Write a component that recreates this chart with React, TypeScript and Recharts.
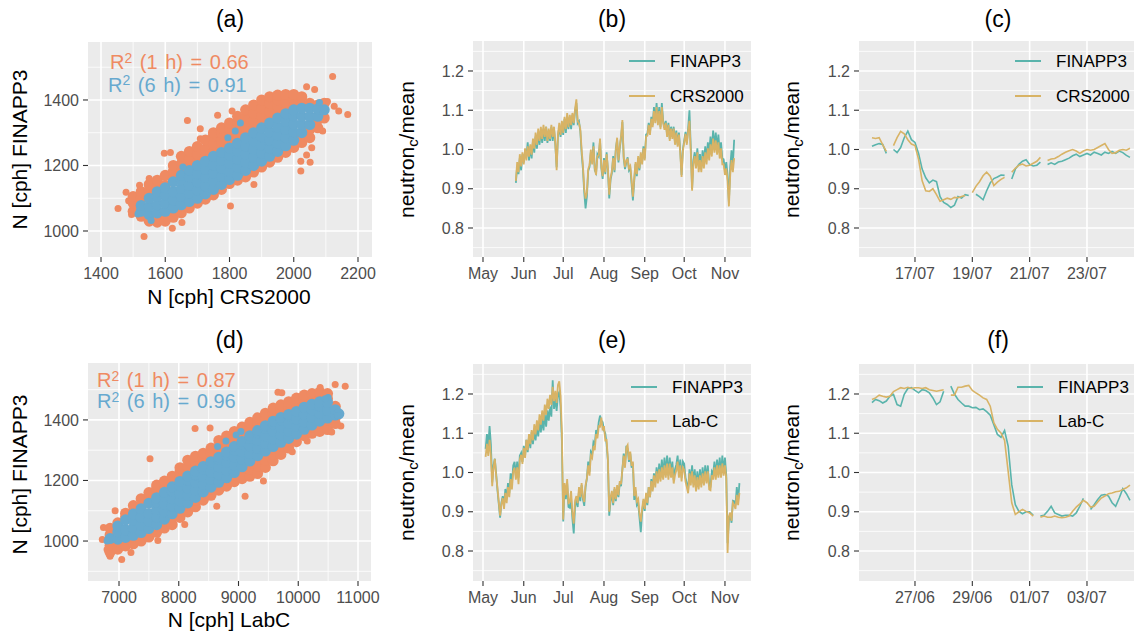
import React from "react";
import {
  ScatterChart,
  Scatter,
  LineChart,
  Line,
  XAxis,
  YAxis,
  CartesianGrid,
} from "recharts";

const FONT = '"Liberation Sans", Arial, Helvetica, sans-serif';
const PANEL_BG = "#EBEBEB";
const TICK_TEXT = "#4D4D4D";
const TICK_LINE = "#333333";
const ORANGE = "#EF8A62";
const BLUE = "#67A9CF";
const TEAL = "#5AB4AC";
const GOLD = "#D8B365";

const YW = 60; // room for y tick labels
const XH = 34; // room for x tick labels
const RM = 30; // room on the right for the last x tick label

// ---------- scatter (a): CRS2000 vs FINAPP3 ----------
// columns: [x, y, y, ...]
const aOrangeCols = [
  [1500, 1060, 1085, 1105],
  [1525, 1045, 1100, 1120],
  [1550, 1030, 1125, 1142],
  [1575, 1027, 1050, 1130, 1155],
  [1600, 1030, 1052, 1140, 1170],
  [1625, 1042, 1062, 1160, 1182, 1200],
  [1650, 1055, 1075, 1180, 1205, 1228],
  [1675, 1070, 1090, 1195, 1220, 1243],
  [1700, 1085, 1100, 1210, 1235, 1258],
  [1725, 1097, 1112, 1225, 1250, 1278],
  [1750, 1110, 1125, 1240, 1265, 1290, 1300],
  [1775, 1127, 1140, 1250, 1275, 1300, 1315],
  [1800, 1145, 1262, 1287, 1310, 1330],
  [1825, 1155, 1280, 1305, 1330, 1350],
  [1850, 1165, 1185, 1295, 1320, 1345, 1370],
  [1875, 1180, 1200, 1310, 1335, 1360, 1385],
  [1900, 1195, 1212, 1325, 1350, 1375, 1400],
  [1925, 1210, 1228, 1340, 1365, 1390, 1410],
  [1950, 1225, 1243, 1355, 1380, 1400, 1415],
  [1975, 1240, 1260, 1368, 1392, 1417],
  [2000, 1255, 1277, 1380, 1400, 1417],
  [2025, 1270, 1295, 1385, 1410],
  [2050, 1285, 1310, 1390],
  [2075, 1315, 1340, 1385],
  [2095, 1345, 1390],
];
const aOrangeOut = [
  [1453, 1069], [1478, 1118], [1486, 1092], [1495, 1050], [1534, 983],
  [1622, 1008], [1652, 1026], [1580, 1040], [1597, 1237], [1616, 1240],
  [1669, 1337], [1709, 1312], [1709, 1282], [1763, 1353], [1808, 1366],
  [1803, 1076], [1876, 1142], [2022, 1213], [2022, 1183], [2051, 1210],
  [2056, 1254], [2040, 1232], [2090, 1305], [2105, 1395], [2121, 1472],
  [2126, 1381], [2140, 1366], [2168, 1356], [1520, 1140], [1550, 1160],
  [2040, 1440], [2065, 1432],
];
const aBlueCols = [
  [1525, 1060, 1078],
  [1550, 1050, 1075, 1100],
  [1575, 1055, 1080, 1105, 1120],
  [1600, 1060, 1085, 1110, 1132],
  [1625, 1070, 1095, 1120, 1150],
  [1650, 1080, 1105, 1130, 1155, 1170],
  [1675, 1090, 1115, 1140, 1165, 1185],
  [1700, 1100, 1125, 1150, 1175, 1200],
  [1725, 1113, 1138, 1163, 1188, 1213],
  [1750, 1127, 1152, 1177, 1202, 1228],
  [1775, 1142, 1167, 1192, 1217, 1240],
  [1800, 1157, 1182, 1207, 1232, 1253],
  [1825, 1170, 1195, 1220, 1245, 1268],
  [1850, 1185, 1210, 1235, 1260, 1285],
  [1875, 1200, 1225, 1250, 1275, 1300],
  [1900, 1213, 1238, 1263, 1288, 1315],
  [1925, 1228, 1253, 1278, 1303, 1330],
  [1950, 1243, 1268, 1293, 1318, 1345],
  [1975, 1260, 1285, 1310, 1335, 1358],
  [2000, 1277, 1302, 1327, 1352, 1370],
  [2025, 1300, 1325, 1350, 1375],
  [2050, 1325, 1350, 1375],
  [2075, 1350, 1373],
  [2095, 1370],
];
const aBlueOut = [
  [1834, 1330], [1818, 1305], [1795, 1285], [1556, 1032], [1515, 1052],
  [1655, 1195], [2095, 1372], [2080, 1392],
];

// ---------- scatter (d): LabC vs FINAPP3 ----------
const dOrangeCols = [
  [6850, 963, 985, 1020, 1042],
  [6980, 973, 998, 1060],
  [7110, 984, 1006, 1080, 1092],
  [7240, 991, 1013, 1097, 1117],
  [7370, 1000, 1022, 1115, 1140],
  [7500, 1013, 1035, 1135, 1160],
  [7630, 1029, 1048, 1152, 1175, 1185],
  [7760, 1043, 1066, 1170, 1198],
  [7890, 1054, 1080, 1188, 1214],
  [8020, 1078, 1100, 1206, 1228, 1242],
  [8150, 1096, 1118, 1224, 1246, 1267],
  [8280, 1113, 1136, 1240, 1262, 1280],
  [8410, 1135, 1155, 1255, 1275, 1290],
  [8540, 1151, 1170, 1270, 1290, 1307],
  [8670, 1168, 1186, 1286, 1310, 1332],
  [8800, 1181, 1201, 1302, 1325, 1347],
  [8930, 1196, 1218, 1320, 1342, 1362],
  [9060, 1206, 1230, 1337, 1358, 1377],
  [9190, 1214, 1237, 1256, 1356, 1375, 1392],
  [9320, 1223, 1248, 1270, 1373, 1392, 1407],
  [9450, 1243, 1267, 1289, 1389, 1406, 1422],
  [9580, 1265, 1287, 1304, 1404, 1422, 1439],
  [9710, 1286, 1312, 1416, 1435, 1450],
  [9840, 1307, 1331, 1426, 1445, 1460],
  [9970, 1328, 1345, 1438, 1456, 1472],
  [10100, 1348, 1361, 1450, 1468, 1482],
  [10230, 1356, 1375, 1460, 1487],
  [10360, 1362, 1388, 1468, 1492],
  [10490, 1368, 1398, 1470, 1487],
  [10620, 1388, 1408, 1445],
];
const dOrangeOut = [
  [6720, 1005], [6740, 1045], [6800, 972], [6850, 950], [7045, 939],
  [6935, 1100], [7519, 1272], [8273, 1372], [8524, 1373], [9660, 1491],
  [9725, 1490], [10367, 1507], [10618, 1517], [10786, 1511], [10713, 1380],
  [10646, 1385], [10560, 1360], [8636, 1115], [9110, 1148], [9417, 1198],
  [7200, 962], [7650, 1002], [8100, 1055], [9900, 1295], [10150, 1330],
];
const dBlueCols = [
  [6850, 1008],
  [6980, 1006, 1030, 1050],
  [7110, 1012, 1037, 1070],
  [7240, 1019, 1044, 1069, 1089],
  [7370, 1028, 1053, 1078, 1107],
  [7500, 1041, 1066, 1091, 1125],
  [7630, 1054, 1079, 1104, 1129, 1143],
  [7760, 1072, 1097, 1122, 1147, 1161],
  [7890, 1090, 1115, 1140, 1165, 1179],
  [8020, 1108, 1133, 1158, 1183, 1197],
  [8150, 1126, 1151, 1176, 1201, 1215],
  [8280, 1144, 1169, 1194, 1219, 1231],
  [8410, 1162, 1187, 1212, 1237, 1246],
  [8540, 1178, 1203, 1228, 1253, 1262],
  [8670, 1194, 1219, 1244, 1269, 1277],
  [8800, 1209, 1234, 1259, 1284, 1294],
  [8930, 1226, 1251, 1276, 1301, 1312],
  [9060, 1245, 1270, 1295, 1320, 1329],
  [9190, 1264, 1289, 1314, 1339, 1348],
  [9320, 1282, 1307, 1332, 1357, 1365],
  [9450, 1297, 1322, 1347, 1372, 1381],
  [9580, 1312, 1337, 1362, 1387, 1396],
  [9710, 1326, 1351, 1376, 1400, 1408],
  [9840, 1339, 1364, 1389, 1414, 1418],
  [9970, 1353, 1378, 1403, 1428],
  [10100, 1369, 1394, 1419, 1442],
  [10230, 1383, 1408, 1433, 1452],
  [10360, 1396, 1421, 1446, 1460],
  [10490, 1406, 1431, 1458],
  [10620, 1416, 1434],
  [10680, 1420],
];
const dBlueOut = [
  [8790, 1330], [8960, 1350], [9040, 1362], [8650, 1312], [10500, 1474],
  [10450, 1470], [10660, 1415], [6800, 1000],
];

// ---------- (b) daily ratio, days since 1 May, from day 25 ----------
const bStart = 25;
const bFinapp = [
  0.915, 0.958, 0.937, 0.978, 0.947, 0.988, 0.967, 0.993, 0.982, 1.018,
  0.972, 1.008, 0.977, 1.023, 0.992, 1.033, 1.002, 1.043, 1.012, 1.048,
  1.017, 1.053, 1.022, 1.058, 1.017, 1.048, 1.022, 1.058, 1.022, 1.053,
  1.012, 0.955, 1.033, 1.058, 1.032, 1.068, 1.037, 1.078, 1.042, 1.083,
  1.052, 1.083, 1.052, 1.088, 1.062, 1.098, 1.118, 1.067, 1.072, 1.047,
  0.99, 0.95, 0.89, 0.85, 0.88, 0.945, 0.955, 0.993, 0.967, 1.018,
  0.947, 0.94, 0.988, 0.982, 1.023, 0.952, 0.925, 0.978, 0.937, 0.993,
  0.947, 0.875, 0.923, 0.94, 0.983, 0.942, 1.003, 1.025, 0.967, 1.003,
  1.03, 1.07, 0.977, 0.95, 0.968, 0.98, 0.947, 0.953, 0.912, 0.87,
  0.92, 0.963, 0.932, 0.978, 0.947, 0.988, 0.967, 1.008, 0.977, 1.038,
  1.04, 1.068, 1.042, 1.083, 1.062, 1.108, 1.072, 1.118, 1.067, 1.108,
  1.057, 1.118, 1.072, 1.055, 1.073, 1.037, 1.068, 1.027, 1.058, 1.032,
  1.058, 1.017, 1.048, 1.012, 1.043, 0.997, 0.935, 1.0, 1.023, 1.045,
  1.017, 1.053, 1.1, 1.005, 0.9, 0.973, 0.993, 0.962, 1.003, 0.957,
  0.988, 0.952, 0.998, 0.967, 1.008, 0.977, 1.018, 0.992, 1.033, 0.997,
  1.048, 1.007, 1.043, 1.002, 1.038, 0.992, 1.018, 0.977, 0.975, 0.947,
  0.968, 0.935, 0.865, 0.955, 0.998, 0.962, 1.025,
];
const bCrs = [
  0.92, 0.968, 0.942, 0.988, 0.957, 0.993, 0.962, 1.003, 0.972, 1.008,
  0.982, 1.013, 0.987, 1.028, 1.002, 1.043, 1.012, 1.053, 1.022, 1.058,
  1.027, 1.063, 1.032, 1.058, 1.022, 1.053, 1.027, 1.063, 1.032, 1.058,
  1.017, 0.947, 1.038, 1.068, 1.037, 1.073, 1.042, 1.083, 1.052, 1.093,
  1.057, 1.088, 1.062, 1.093, 1.067, 1.103, 1.128, 1.072, 1.067, 1.052,
  1.0, 0.96, 0.9, 0.875, 0.89, 0.95, 0.96, 1.0, 0.962, 1.008,
  0.952, 0.935, 0.983, 0.985, 1.028, 0.957, 0.932, 0.973, 0.942, 0.988,
  0.952, 0.885, 0.928, 0.945, 0.978, 0.947, 0.998, 1.03, 0.972, 1.008,
  1.035, 1.075, 0.982, 0.955, 0.973, 0.975, 0.952, 0.958, 0.922, 0.88,
  0.925, 0.968, 0.937, 0.983, 0.952, 0.993, 0.962, 1.003, 0.972, 1.033,
  1.035, 1.063, 1.037, 1.078, 1.057, 1.098, 1.067, 1.108, 1.062, 1.098,
  1.052, 1.108, 1.067, 1.05, 1.068, 1.032, 1.063, 1.022, 1.053, 1.027,
  1.053, 1.012, 1.043, 1.007, 1.038, 0.992, 0.93, 0.995, 1.018, 1.04,
  1.012, 1.048, 1.073, 0.995, 0.895, 0.963, 0.983, 0.952, 0.993, 0.942,
  0.973, 0.942, 0.983, 0.952, 0.993, 0.962, 1.003, 0.972, 1.013, 0.982,
  1.028, 0.992, 1.023, 0.987, 1.018, 0.977, 1.003, 0.962, 0.962, 0.935,
  0.952, 0.92, 0.855, 0.935, 0.973, 0.942, 0.978,
];

// ---------- (e) daily ratio, days since 1 May, from day 2 ----------
const eStart = 2;
const eFinapp = [
  1.06, 1.098, 1.067, 1.118, 1.072, 0.975, 1.018, 1.035, 0.997, 0.955,
  0.92, 0.885, 0.923, 0.94, 0.917, 0.958, 0.932, 0.973, 0.947, 0.998,
  0.972, 1.018, 1.027, 0.992, 1.028, 0.987, 1.043, 1.05, 1.027, 1.068,
  1.042, 1.083, 1.052, 1.093, 1.062, 1.103, 1.072, 1.108, 1.082, 1.118,
  1.092, 1.128, 1.102, 1.138, 1.107, 1.148, 1.117, 1.158, 1.132, 1.168,
  1.142, 1.235, 1.162, 1.188, 1.157, 1.198, 1.205, 1.167, 1.08, 0.875,
  0.958, 0.932, 0.973, 0.912, 0.91, 0.933, 0.882, 0.845, 0.913, 0.93,
  0.912, 0.953, 0.927, 0.968, 0.932, 0.915, 0.963, 0.985, 1.028, 1.002,
  1.053, 1.047, 1.078, 1.072, 1.108, 1.097, 1.128, 1.145, 1.132, 1.128,
  1.107, 1.1, 1.072, 1.03, 0.89, 0.928, 0.943, 0.917, 0.958, 0.927,
  0.963, 0.937, 0.973, 0.965, 1.008, 1.048, 1.017, 1.068, 1.06, 1.027,
  1.048, 1.012, 1.023, 0.93, 0.953, 0.917, 0.923, 0.885, 0.848, 0.898,
  0.928, 0.902, 0.943, 0.917, 0.963, 0.937, 0.983, 0.957, 0.998, 0.972,
  1.013, 0.982, 1.023, 0.987, 1.033, 0.992, 1.038, 0.997, 1.043, 0.992,
  1.038, 0.997, 1.028, 0.982, 1.008, 1.02, 1.043, 0.997, 1.033, 0.987,
  1.028, 1.022, 0.987, 0.972, 0.955, 1.008, 0.977, 1.018, 0.972, 1.008,
  0.962, 1.003, 0.967, 1.008, 0.972, 1.013, 0.977, 1.018, 0.982, 1.018,
  0.967, 0.965, 1.003, 0.997, 1.028, 0.992, 1.033, 0.997, 1.038, 0.997,
  1.043, 1.002, 1.038, 0.992, 0.82, 0.878, 0.893, 0.872, 0.928, 0.927,
  0.917, 0.963, 0.927, 0.973,
];
const eLabC = [
  1.04, 1.073, 1.042, 1.083, 1.042, 0.965, 1.01, 1.035, 0.992, 0.96,
  0.925, 0.89, 0.918, 0.935, 0.907, 0.948, 0.922, 0.963, 0.937, 0.983,
  0.957, 1.003, 1.012, 0.982, 1.013, 0.97, 1.033, 1.045, 1.022, 1.063,
  1.037, 1.083, 1.057, 1.098, 1.072, 1.108, 1.082, 1.123, 1.097, 1.133,
  1.107, 1.148, 1.122, 1.158, 1.132, 1.173, 1.147, 1.188, 1.162, 1.198,
  1.172, 1.218, 1.182, 1.208, 1.177, 1.223, 1.232, 1.195, 1.1, 0.88,
  0.973, 0.942, 0.983, 0.922, 0.925, 0.953, 0.897, 0.87, 0.928, 0.94,
  0.922, 0.963, 0.937, 0.973, 0.937, 0.925, 0.968, 0.985, 1.018, 0.992,
  1.043, 1.037, 1.068, 1.057, 1.098, 1.087, 1.118, 1.117, 1.14, 1.107,
  1.118, 1.082, 1.083, 1.032, 0.9, 0.938, 0.953, 0.922, 0.963, 0.932,
  0.968, 0.942, 0.978, 0.97, 1.008, 1.043, 1.012, 1.063, 1.07, 1.032,
  1.053, 1.017, 1.028, 0.94, 0.963, 0.927, 0.933, 0.895, 0.875, 0.908,
  0.933, 0.907, 0.948, 0.922, 0.963, 0.937, 0.978, 0.952, 0.993, 0.962,
  1.003, 0.972, 1.008, 0.977, 1.013, 0.982, 1.018, 0.987, 1.023, 0.982,
  1.023, 0.987, 1.013, 0.972, 0.993, 1.005, 1.028, 0.987, 1.018, 0.977,
  1.013, 1.007, 0.977, 0.962, 0.947, 0.998, 0.967, 1.003, 0.962, 0.993,
  0.952, 0.988, 0.957, 0.993, 0.962, 0.998, 0.967, 1.003, 0.972, 1.003,
  0.957, 0.955, 0.993, 0.982, 1.013, 0.982, 1.018, 0.987, 1.018, 0.987,
  1.023, 0.992, 1.018, 0.985, 0.795, 0.888, 0.898, 0.877, 0.923, 0.917,
  0.907, 0.943, 0.917, 0.948,
];

// ---------- (c) zoom, days since 15/07, every 3 h from day 0.5 ----------
const zoomStart = 0.5;
const zoomStep = 0.125;
const cFinapp = [
  1.008, 1.012, 1.015, 1.013, 0.99, null, 1.0, 0.992, 1.005, 1.03,
  1.047, 1.025, 1.018, 0.99, 0.95, 0.928, 0.915, 0.922, 0.918, 0.88,
  0.865, 0.86, 0.852, 0.858, 0.88, 0.876, 0.885, 0.883, null, 0.886,
  0.88, 0.872, 0.895, 0.915, 0.926, 0.93, 0.935, 0.934, null, 0.925,
  0.95, 0.962, 0.97, 0.974, 0.962, 0.958, 0.96, 0.968, null, 0.962,
  0.966, 0.962, 0.968, 0.97, 0.974, 0.978, 0.984, 0.988, 0.982, 0.986,
  0.99, 0.986, 0.993, 0.99, 0.986, 0.993, 0.99, 0.995, 0.99, 0.996,
  0.992, 0.985, 0.98,
];
const cCrs = [
  1.03, 1.028, 1.03, 1.012, 0.995, null, 1.01, 1.03, 1.046, 1.04,
  1.025, 1.014, 1.01, 0.975, 0.92, 0.895, 0.893, 0.9, 0.885, 0.868,
  0.872, 0.876, 0.873, 0.878, 0.877, 0.88, 0.883, null, 0.89, 0.906,
  0.918, 0.933, 0.942, 0.932, 0.908, 0.917, 0.924, 0.929, null, 0.942,
  0.952, 0.96, 0.963, 0.958, 0.96, 0.965, 0.97, 0.98, null, 0.972,
  0.976, 0.977, 0.982, 0.988, 0.993, 0.997, 1.0, 0.996, 0.99, 0.996,
  1.0, 0.998, 1.0, 1.005, 1.01, 1.015, 1.0, 0.99, 0.992, 0.998,
  1.0, 0.998, 1.003,
];

// ---------- (f) zoom, days since 25/06, every 3 h from day 0.5 ----------
const fFinapp = [
  1.178, 1.186, 1.183, 1.177, 1.182, 1.194, 1.199, 1.173, 1.169, 1.199,
  1.214, 1.216, 1.209, 1.203, 1.211, 1.209, 1.203, 1.19, 1.173, 1.18,
  1.207, null, 1.22, 1.2, 1.186, 1.177, 1.169, 1.169, 1.165, 1.166,
  1.16, 1.162, 1.155, 1.146, 1.122, 1.097, 1.09, 1.107, 1.067, 0.969,
  0.918, 0.901, 0.895, 0.9, 0.9, 0.891, null, 0.889, 0.891, 0.901,
  0.914, 0.897, 0.893, 0.889, 0.891, 0.891, 0.889, 0.897, 0.914, 0.934,
  null, 0.906, 0.918, 0.931, 0.942, 0.944, 0.94, 0.923, 0.914, 0.935,
  0.959, 0.946, 0.929,
];
const fLabC = [
  1.186, 1.19, 1.197, 1.194, 1.192, 1.194, 1.206, 1.211, 1.216, 1.214,
  1.217, 1.214, 1.216, 1.216, 1.214, 1.216, 1.211, 1.209, 1.207, 1.209,
  1.211, null, 1.197, 1.197, 1.217, 1.217, 1.22, 1.222, 1.209, 1.203,
  1.197, 1.19, 1.186, 1.169, 1.127, 1.11, 1.101, 1.082, 1.003, 0.923,
  0.893, 0.9, 0.906, 0.901, 0.897, 0.889, null, 0.886, 0.889, 0.886,
  0.886, 0.889, 0.886, 0.885, 0.886, 0.889, 0.901, 0.912, 0.92, 0.929,
  0.923, 0.912, 0.914, 0.925, 0.935, 0.94, 0.946, 0.948, 0.951, 0.952,
  0.957, 0.961, 0.968,
];

// ---------- axes ----------
const monthTicks = [0, 31, 61, 92, 123, 153, 184];
const monthLabels = ["May", "Jun", "Jul", "Aug", "Sep", "Oct", "Nov"];
const dayTicks = [2, 4, 6, 8];
const cDayLabels = ["17/07", "19/07", "21/07", "23/07"];
const fDayLabels = ["27/06", "29/06", "01/07", "03/07"];
const ratioTicks = [0.8, 0.9, 1.0, 1.1, 1.2];
const ratioMinor = [0.75, 0.85, 0.95, 1.05, 1.15, 1.25];

type Box = { x0: number; y0: number; x1: number; y1: number };

const fromCols = (cols: number[][]) =>
  cols.flatMap(([x, ...ys]) => ys.map((y) => ({ x, y })));
const fromPairs = (pairs: number[][]) => pairs.map(([x, y]) => ({ x, y }));
const dot = (r: number, fill: string) => (p: any) =>
  <circle cx={p.cx} cy={p.cy} r={r} fill={fill} />;

const tickStyle = { fill: TICK_TEXT, fontSize: 16, fontFamily: FONT };

function grids(xMinor: number[], yMinor: number[], xMajor: number[], yMajor: number[]) {
  return [
    <CartesianGrid
      key="g1"
      fill={PANEL_BG}
      fillOpacity={1}
      stroke="#FFFFFF"
      strokeWidth={0.8}
      vertical={xMinor.length > 0}
      verticalValues={xMinor}
      horizontalValues={yMinor}
    />,
    <CartesianGrid
      key="g2"
      stroke="#FFFFFF"
      strokeWidth={1.6}
      verticalValues={xMajor}
      horizontalValues={yMajor}
    />,
  ];
}

function axes(
  xKey: string,
  yKey: string,
  xDomain: number[],
  yDomain: number[],
  xTicks: number[],
  yTicks: number[],
  xFmt: (v: number) => string,
  yFmt: (v: number) => string
) {
  return [
    <XAxis
      key="x"
      type="number"
      dataKey={xKey}
      domain={xDomain}
      allowDataOverflow
      ticks={xTicks}
      interval={0}
      tickFormatter={xFmt}
      height={XH}
      axisLine={false}
      tickLine={{ stroke: TICK_LINE, strokeWidth: 1.1 }}
      tickSize={5}
      tickMargin={6}
      tick={tickStyle}
    />,
    <YAxis
      key="y"
      type="number"
      dataKey={yKey}
      domain={yDomain}
      allowDataOverflow
      ticks={yTicks}
      interval={0}
      tickFormatter={yFmt}
      width={YW}
      axisLine={false}
      tickLine={{ stroke: TICK_LINE, strokeWidth: 1.1 }}
      tickSize={5}
      tickMargin={4}
      tick={tickStyle}
    />,
  ];
}

function Text({ x, baseline, size, children, align = "center", color = "#000000" }: any) {
  const w = 600;
  const left = align === "center" ? x - w / 2 : x;
  return (
    <div
      style={{
        position: "absolute",
        left,
        top: baseline - size * 0.8465,
        width: w,
        height: size,
        lineHeight: `${size}px`,
        fontSize: size,
        fontFamily: FONT,
        color,
        textAlign: align === "center" ? "center" : "left",
        whiteSpace: "pre",
      }}
    >
      {children}
    </div>
  );
}

function VText({ baselineX, cy, size, children }: any) {
  const cx = baselineX - size * 0.3465;
  return (
    <div
      style={{
        position: "absolute",
        left: cx - 150,
        top: cy - size / 2,
        width: 300,
        height: size,
        lineHeight: `${size}px`,
        fontSize: size,
        fontFamily: FONT,
        color: "#000000",
        textAlign: "center",
        whiteSpace: "nowrap",
        transform: "rotate(-90deg)",
      }}
    >
      {children}
    </div>
  );
}

const Sub = ({ children }: any) => (
  <span style={{ fontSize: "0.7em", position: "relative", top: "0.3em" }}>{children}</span>
);
const Sup = ({ children }: any) => (
  <span style={{ fontSize: "0.7em", position: "relative", top: "-0.45em" }}>{children}</span>
);

function LegendKeys({ lineX, textX, ys, items }: any) {
  return (
    <>
      {items.map((it: any, i: number) => (
        <React.Fragment key={it.name}>
          <div
            style={{
              position: "absolute",
              left: lineX,
              top: ys[i] - 1,
              width: 26,
              height: 2,
              background: it.color,
            }}
          />
          <Text x={textX} baseline={ys[i] + 6.5} size={17} align="left">
            {it.name}
          </Text>
        </React.Fragment>
      ))}
    </>
  );
}

function ScatterPanel({ box, xDomain, yDomain, xTicks, xMinor, yTicks, yMinor, oCols, oOut, bCols, bOut }: any) {
  return (
    <div style={{ position: "absolute", left: box.x0 - YW, top: box.y0 }}>
      <ScatterChart
        width={box.x1 - box.x0 + YW + RM}
        height={box.y1 - box.y0 + XH}
        margin={{ top: 0, right: RM, bottom: 0, left: 0 }}
      >
        {grids(xMinor, yMinor, xTicks, yTicks)}
        {axes("x", "y", xDomain, yDomain, xTicks, yTicks, (v) => String(v), (v) => String(v))}
        <Scatter data={fromPairs(oOut)} shape={dot(3.5, ORANGE)} isAnimationActive={false} />
        <Scatter data={fromCols(oCols)} shape={dot(5.5, ORANGE)} isAnimationActive={false} />
        <Scatter data={fromCols(bCols)} shape={dot(5.5, BLUE)} isAnimationActive={false} />
        <Scatter data={fromPairs(bOut)} shape={dot(3.5, BLUE)} isAnimationActive={false} />
      </ScatterChart>
    </div>
  );
}

function LinePanel({ box, data, xDomain, yDomain, xTicks, xLabels, lw }: any) {
  return (
    <div style={{ position: "absolute", left: box.x0 - YW, top: box.y0 }}>
      <LineChart
        width={box.x1 - box.x0 + YW + RM}
        height={box.y1 - box.y0 + XH}
        data={data}
        margin={{ top: 0, right: RM, bottom: 0, left: 0 }}
      >
        {grids([], ratioMinor, xTicks, ratioTicks)}
        {axes(
          "t",
          "fin",
          xDomain,
          yDomain,
          xTicks,
          ratioTicks,
          (v) => xLabels[xTicks.indexOf(v)] ?? "",
          (v) => v.toFixed(1)
        )}
        <Line dataKey="fin" stroke={TEAL} strokeWidth={lw} dot={false} connectNulls={false} isAnimationActive={false} />
        <Line dataKey="ref" stroke={GOLD} strokeWidth={lw} dot={false} connectNulls={false} isAnimationActive={false} />
      </LineChart>
    </div>
  );
}

const dailyRows = (start: number, fin: number[], ref: number[]) =>
  fin.map((v, i) => ({ t: start + i, fin: v, ref: ref[i] }));
const zoomRows = (fin: (number | null)[], ref: (number | null)[]) =>
  fin.map((v, i) => ({ t: zoomStart + zoomStep * i, fin: v, ref: ref[i] }));

const boxA: Box = { x0: 88, y0: 42, x1: 372, y1: 257 };
const boxB: Box = { x0: 473, y0: 41, x1: 751, y1: 257 };
const boxC: Box = { x0: 859, y0: 41, x1: 1134, y1: 257 };
const boxD: Box = { x0: 88, y0: 363, x1: 371, y1: 581 };
const boxE: Box = { x0: 473, y0: 364, x1: 751, y1: 581 };
const boxF: Box = { x0: 859, y0: 364, x1: 1134, y1: 581 };

const ratioLabel = (
  <>
    neutron<Sub>c</Sub>/mean
  </>
);

export default function App() {
  return (
    <div
      style={{
        position: "absolute",
        left: 0,
        top: 0,
        width: 1134,
        height: 636,
        background: "#FFFFFF",
        overflow: "hidden",
        fontFamily: FONT,
      }}
    >
      {/* (a) */}
      <ScatterPanel
        box={boxA}
        xDomain={[1359.5, 2243.6]}
        yDomain={[920.6, 1577]}
        xTicks={[1400, 1600, 1800, 2000, 2200]}
        xMinor={[1500, 1700, 1900, 2100]}
        yTicks={[1000, 1200, 1400]}
        yMinor={[1100, 1300, 1500]}
        oCols={aOrangeCols}
        oOut={aOrangeOut}
        bCols={aBlueCols}
        bOut={aBlueOut}
      />
      <Text x={230} baseline={27} size={23}>(a)</Text>
      <Text x={229} baseline={304} size={21}>N [cph] CRS2000</Text>
      <VText baselineX={26} cy={149} size={21}>N [cph] FINAPP3</VText>
      <Text x={110} baseline={69} size={20} align="left" color={ORANGE}>
        <span style={{ wordSpacing: 2 }}>R<Sup>2</Sup> (1 h) = 0.66</span>
      </Text>
      <Text x={108} baseline={91.5} size={20} align="left" color={BLUE}>
        <span style={{ wordSpacing: 2 }}>R<Sup>2</Sup> (6 h) = 0.91</span>
      </Text>

      {/* (b) */}
      <LinePanel
        box={boxB}
        data={dailyRows(bStart, bFinapp, bCrs)}
        xDomain={[-7.6, 203.8]}
        yDomain={[0.7261, 1.2764]}
        xTicks={monthTicks}
        xLabels={monthLabels}
        lw={1.8}
      />
      <Text x={612} baseline={27} size={23}>(b)</Text>
      <VText baselineX={413} cy={149} size={21}>{ratioLabel}</VText>
      <LegendKeys
        lineX={629}
        textX={670}
        ys={[61, 96]}
        items={[{ name: "FINAPP3", color: TEAL }, { name: "CRS2000", color: GOLD }]}
      />

      {/* (c) */}
      <LinePanel
        box={boxC}
        data={zoomRows(cFinapp, cCrs)}
        xDomain={[0.047, 9.64]}
        yDomain={[0.7261, 1.2764]}
        xTicks={dayTicks}
        xLabels={cDayLabels}
        lw={1.6}
      />
      <Text x={998} baseline={27} size={23}>(c)</Text>
      <VText baselineX={798} cy={149} size={21}>{ratioLabel}</VText>
      <LegendKeys
        lineX={1015}
        textX={1056}
        ys={[61, 96]}
        items={[{ name: "FINAPP3", color: TEAL }, { name: "CRS2000", color: GOLD }]}
      />

      {/* (d) */}
      <ScatterPanel
        box={boxD}
        xDomain={[6481, 11217.6]}
        yDomain={[868, 1588]}
        xTicks={[7000, 8000, 9000, 10000, 11000]}
        xMinor={[7500, 8500, 9500, 10500]}
        yTicks={[1000, 1200, 1400]}
        yMinor={[900, 1100, 1300, 1500]}
        oCols={dOrangeCols}
        oOut={dOrangeOut}
        bCols={dBlueCols}
        bOut={dBlueOut}
      />
      <Text x={229.5} baseline={348} size={23}>(d)</Text>
      <Text x={229} baseline={627} size={21}>N [cph] LabC</Text>
      <VText baselineX={26} cy={474} size={21}>N [cph] FINAPP3</VText>
      <Text x={97} baseline={387} size={20} align="left" color={ORANGE}>
        <span style={{ wordSpacing: 2 }}>R<Sup>2</Sup> (1 h) = 0.87</span>
      </Text>
      <Text x={97} baseline={408} size={20} align="left" color={BLUE}>
        <span style={{ wordSpacing: 2 }}>R<Sup>2</Sup> (6 h) = 0.96</span>
      </Text>

      {/* (e) */}
      <LinePanel
        box={boxE}
        data={dailyRows(eStart, eFinapp, eLabC)}
        xDomain={[-7.6, 203.8]}
        yDomain={[0.7236, 1.2764]}
        xTicks={monthTicks}
        xLabels={monthLabels}
        lw={1.8}
      />
      <Text x={612} baseline={348} size={23}>(e)</Text>
      <VText baselineX={413} cy={472.5} size={21}>{ratioLabel}</VText>
      <LegendKeys
        lineX={631}
        textX={672}
        ys={[387, 421]}
        items={[{ name: "FINAPP3", color: TEAL }, { name: "Lab-C", color: GOLD }]}
      />

      {/* (f) */}
      <LinePanel
        box={boxF}
        data={zoomRows(fFinapp, fLabC)}
        xDomain={[0.047, 9.64]}
        yDomain={[0.7236, 1.2764]}
        xTicks={dayTicks}
        xLabels={fDayLabels}
        lw={1.6}
      />
      <Text x={998} baseline={348} size={23}>(f)</Text>
      <VText baselineX={798} cy={472.5} size={21}>{ratioLabel}</VText>
      <LegendKeys
        lineX={1017}
        textX={1058}
        ys={[387, 421]}
        items={[{ name: "FINAPP3", color: TEAL }, { name: "Lab-C", color: GOLD }]}
      />
    </div>
  );
}
